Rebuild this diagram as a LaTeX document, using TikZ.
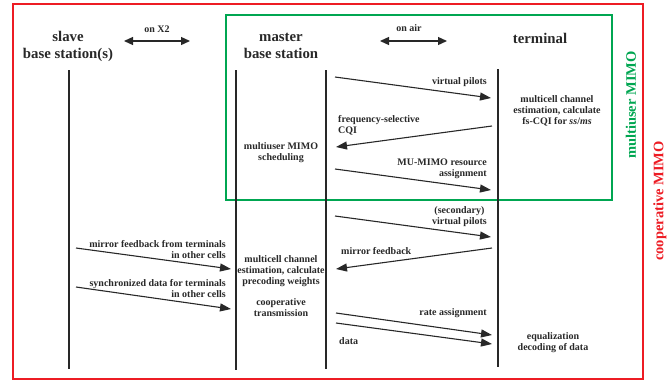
\documentclass[tikz,border=0pt]{standalone}
\usepackage{fontspec}
\setmainfont{Liberation Serif}
\usetikzlibrary{arrows.meta}
\definecolor{myred}{RGB}{237,28,36}
\definecolor{mygreen}{RGB}{0,166,81}
\definecolor{ink}{RGB}{40,40,40}
\begin{document}
\begin{tikzpicture}[x=1pt,y=-1pt,
  lbl/.style={font=\bfseries\fontsize{10}{11}\selectfont, text=ink, inner sep=0pt},
  hdr/.style={font=\bfseries\fontsize{14.8}{17}\selectfont, text=ink, align=center, inner sep=0pt},
  side/.style={font=\bfseries\fontsize{14.5}{17}\selectfont, rotate=90, inner sep=0pt},
  life/.style={line width=1.1pt, draw=ink},
  msg/.style={line width=1.1pt, draw=ink, -{Triangle[length=11pt,width=8pt]}},
  both/.style={line width=1.3pt, draw=ink, {Triangle[length=9pt,width=8pt]}-{Triangle[length=9pt,width=8pt]}},
  frame/.style={line width=2.4pt},
]
\useasboundingbox (0,0) rectangle (672,381);

% frames
\draw[frame, myred] (13,4) rectangle (643,379);
\draw[frame, mygreen] (226,15) rectangle (612,200);
\node[side, text=mygreen] (mu) at (631,105) {multiuser MIMO};
\node[side, text=myred] (co) at (660,201) {cooperative MIMO};

% headers
\node[hdr] (hs) at (68,46) {slave\\base station(s)};
\node[hdr] (hm) at (281,46) {master\\base station};
\node[hdr] (ht) at (540,38) {terminal};
\node[lbl] (lx2) at (157,29) {on X2};
\node[lbl] (lair) at (409,28) {on air};
\coordinate (x2a) at (124,41); \coordinate (x2b) at (190,41);
\coordinate (aira) at (380,41); \coordinate (airb) at (447,41);
\draw[both] (x2a) -- (x2b);
\draw[both] (aira) -- (airb);

% lifelines
\coordinate (s0) at (69,70);  \coordinate (s1) at (69,369);
\coordinate (m0) at (236,70); \coordinate (m1) at (236,370);
\coordinate (n0) at (326,70); \coordinate (n1) at (326,369);
\coordinate (t0) at (498,69); \coordinate (t1) at (498,367);
\draw[life] (s0) -- (s1);
\draw[life] (m0) -- (m1);
\draw[life] (n0) -- (n1);
\draw[life] (t0) -- (t1);

% process texts
\node[lbl, align=center] (tce) at (557,111) {multicell channel\\estimation, calculate\\fs-CQI for \textit{ss}/\textit{ms}};
\node[lbl, align=center] (mus) at (281,152.5) {multiuser MIMO\\scheduling};
\node[lbl, align=center] (mce) at (281,271) {multicell channel\\estimation, calculate\\precoding weights};
\node[lbl, align=center] (ctx) at (281,308) {cooperative\\transmission};
\node[lbl, align=center] (eqd) at (553,342.5) {equalization\\decoding of data};

% message endpoints
\coordinate (a1) at (335,77);  \coordinate (b1) at (491,98);
\coordinate (a2) at (492,126); \coordinate (b2) at (336,147);
\coordinate (a3) at (335,169); \coordinate (b3) at (491,190);
\coordinate (a4) at (335,216); \coordinate (b4) at (491,237);
\coordinate (a5) at (492,248); \coordinate (b5) at (336,269);
\coordinate (a6) at (336,313); \coordinate (b6) at (492,335);
\coordinate (a7) at (336,323); \coordinate (b7) at (492,344);
\coordinate (a8) at (76,248);  \coordinate (b8) at (231,269);
\coordinate (a9) at (76,287);  \coordinate (b9) at (231,309);

\draw[msg] (a1) -- (b1);
\draw[msg] (a2) -- (b2);
\draw[msg] (a3) -- (b3);
\draw[msg] (a4) -- (b4);
\draw[msg] (a5) -- (b5);
\draw[msg] (a6) -- (b6);
\draw[msg] (a7) -- (b7);
\draw[msg] (a8) -- (b8);
\draw[msg] (a9) -- (b9);

% message labels
\node[lbl, anchor=east] (l1) at (487,82) {virtual pilots};
\node[lbl, anchor=west, align=left] (l2) at (338,125) {frequency-selective\\CQI};
\node[lbl, anchor=east, align=right] (l3) at (487,168.5) {MU-MIMO resource\\assignment};
\node[lbl, anchor=east, align=center] (l4) at (487,217) {(secondary)\\virtual pilots};
\node[lbl, anchor=west] (l5) at (341,251) {mirror feedback};
\node[lbl, anchor=east] (l6) at (487,313) {rate assignment};
\node[lbl, anchor=west] (l7) at (339,341) {data};
\node[lbl, anchor=east, align=right] (l8) at (226,249.5) {mirror feedback from terminals\\in other cells};
\node[lbl, anchor=east, align=right] (l9) at (226,289) {synchronized data for terminals\\in other cells};
\end{tikzpicture}
\end{document}
